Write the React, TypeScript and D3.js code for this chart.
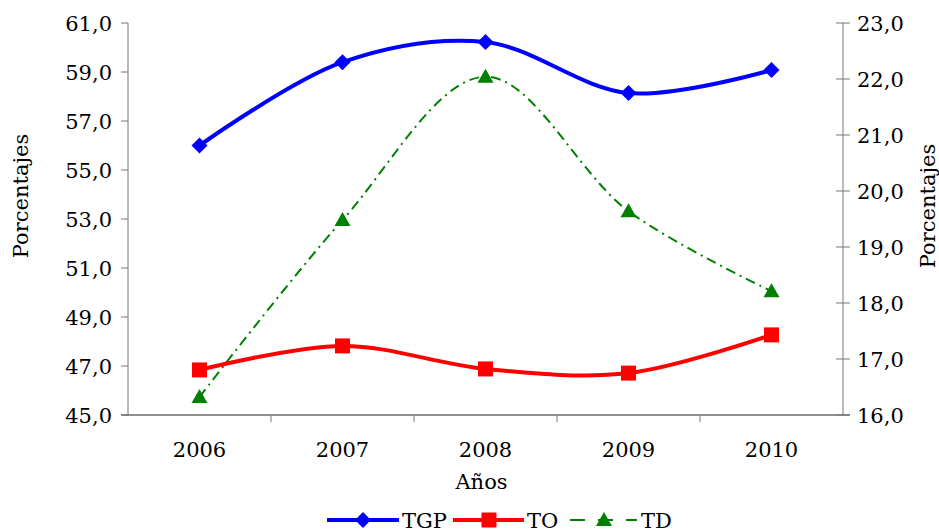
import React from "react";
import * as d3 from "d3";

const years = ["2006", "2007", "2008", "2009", "2010"];
const tgp = [56.0, 59.4, 60.22, 58.14, 59.08];
const to = [46.84, 47.82, 46.88, 46.71, 48.27];
const td = [16.32, 19.48, 22.04, 19.64, 18.21];
const leftTicks = [45, 47, 49, 51, 53, 55, 57, 59, 61];
const rightTicks = [16, 17, 18, 19, 20, 21, 22, 23];

const W = 939, H = 531;
const M = { left: 128, right: 843, top: 23, bottom: 415 };
const FONT = "DejaVu Serif";

export default function App() {
  const x = d3.scaleBand<string>().domain(years).range([M.left, M.right]);
  const yL = d3.scaleLinear().domain([45, 61]).range([M.bottom, M.top]);
  const yR = d3.scaleLinear().domain([16, 23]).range([M.bottom, M.top]);
  const cx = (i: number) => (x(years[i]) as number) + x.bandwidth() / 2;
  const fmt = (v: number) => v.toFixed(1).replace(".", ",");

  const line = (ys: d3.ScaleLinear<number, number>) =>
    d3.line<number>().x((_, i) => cx(i)).y((v) => ys(v)).curve(d3.curveCatmullRom.alpha(0.5));

  const diamond = (px: number, py: number, s = 8) =>
    `M${px},${py - s}L${px + s},${py}L${px},${py + s}L${px - s},${py}Z`;
  const tri = (px: number, py: number, s = 8) =>
    `M${px},${py - s}L${px + s},${py + s * 0.75}L${px - s},${py + s * 0.75}Z`;

  const fs = 21;
  const bandEdges = years.map((y) => x(y) as number).concat([M.right]);

  return (
    <svg width={W} height={H} style={{ position: "absolute", left: 0, top: 0 }} fontFamily={FONT}>
      <rect width={W} height={H} fill="#fff" />
      {/* axes */}
      <line x1={M.left} x2={M.left} y1={M.top} y2={M.bottom} stroke="#777" />
      <line x1={M.right} x2={M.right} y1={M.top} y2={M.bottom} stroke="#777" />
      <line x1={M.left - 7} x2={M.right + 7} y1={M.bottom} y2={M.bottom} stroke="#222" />
      {leftTicks.map((t) => (
        <g key={"l" + t}>
          <line x1={M.left - 7} x2={M.left} y1={yL(t)} y2={yL(t)} stroke="#777" />
          <text x={M.left - 16} y={yL(t)} dy="0.36em" textAnchor="end" fontSize={fs} fill="#000">{fmt(t)}</text>
        </g>
      ))}
      {rightTicks.map((t) => (
        <g key={"r" + t}>
          <line x1={M.right - 7} x2={M.right + 7} y1={yR(t)} y2={yR(t)} stroke="#777" />
          <text x={M.right + 14} y={yR(t)} dy="0.36em" textAnchor="start" fontSize={fs} fill="#000">{fmt(t)}</text>
        </g>
      ))}
      {bandEdges.slice(1, -1).map((e, i) => (
        <line key={"xt" + i} x1={e} x2={e} y1={M.bottom} y2={M.bottom + 7} stroke="#777" />
      ))}
      {years.map((y, i) => (
        <text key={y} x={cx(i)} y={M.bottom + 42} textAnchor="middle" fontSize={fs} fill="#000">{y}</text>
      ))}
      <text x={(M.left + M.right) / 2 - 4} y={489} textAnchor="middle" fontSize={fs} fill="#000">Años</text>
      <text transform={`translate(28,196) rotate(-90)`} textAnchor="middle" fontSize={fs} fill="#000">Porcentajes</text>
      <text transform={`translate(935,206) rotate(-90)`} textAnchor="middle" fontSize={fs} fill="#000">Porcentajes</text>

      {/* series */}
      <path d={line(yR)(td) || ""} fill="none" stroke="#008000" strokeWidth={2} strokeDasharray="10,5,2,5" />
      <path d={line(yL)(to) || ""} fill="none" stroke="#ff0000" strokeWidth={4} />
      <path d={line(yL)(tgp) || ""} fill="none" stroke="#0000ff" strokeWidth={4} />
      {td.map((v, i) => <path key={"td" + i} d={tri(cx(i), yR(v))} fill="#008000" />)}
      {to.map((v, i) => <rect key={"to" + i} x={cx(i) - 7.5} y={yL(v) - 7.5} width={15} height={15} fill="#ff0000" />)}
      {tgp.map((v, i) => <path key={"tg" + i} d={diamond(cx(i), yL(v))} fill="#0000ff" />)}

      {/* legend */}
      <g>
        <line x1={327} x2={399} y1={520} y2={520} stroke="#0000ff" strokeWidth={4} />
        <path d={diamond(363, 520)} fill="#0000ff" />
        <text x={402} y={520} dy="0.36em" fontSize={fs} fill="#000">TGP</text>
        <line x1={453} x2={524} y1={520} y2={520} stroke="#ff0000" strokeWidth={4} />
        <rect x={481.5} y={512.5} width={15} height={15} fill="#ff0000" />
        <text x={527} y={520} dy="0.36em" fontSize={fs} fill="#000">TO</text>
        <line x1={570} x2={637} y1={520} y2={520} stroke="#008000" strokeWidth={2} strokeDasharray="15,13" />
        <path d={tri(604, 520)} fill="#008000" />
        <text x={641} y={520} dy="0.36em" fontSize={fs} fill="#000">TD</text>
      </g>
    </svg>
  );
}
